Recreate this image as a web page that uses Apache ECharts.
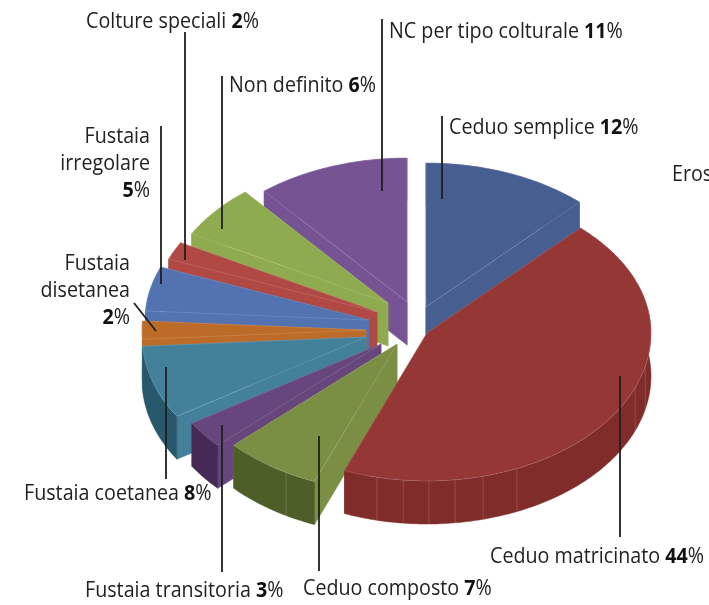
<!DOCTYPE html>
<html>
<head>
<meta charset="utf-8">
<title>Tipi colturali</title>
<script src="https://cdn.jsdelivr.net/npm/echarts@6/dist/echarts.min.js"></script>
<style>
  html, body { margin: 0; background: #fff; }
  #chart { width: 709px; height: 605px; }
</style>
</head>
<body>
<div id="chart"></div>
<script>
  // dati, in senso orario da ore 12
  var names = ["Ceduo semplice", "Ceduo matricinato", "Ceduo composto", "Fustaia transitoria", "Fustaia coetanea",
    "Fustaia\ndisetanea", "Fustaia\nirregolare", "Colture speciali", "Non definito", "NC per tipo colturale"];
  var values = [12, 44, 7, 3, 8, 2, 5, 2, 6, 11];

  // colori: faccia superiore e bordo esterno
  var topColors = ["#475e91", "#953735", "#7a8f43", "#66467c", "#43819a", "#bc6c28", "#5272b0", "#b04844", "#8fab50", "#765494"];
  var rimColors = ["#475e91", "#7f2c2a", "#4e5e28", "#452a55", "#27586b", "#bc6c28", "#5272b0", "#b04844", "#8fab50", "#765494"];

  // layout della torta esplosa
  var RX = 224, RY_BACK = 144, RY_FRONT = 148, DEPTH = 43;
  var apex = [[426, 307], [427, 333], [397, 344], [381, 344], [366, 337], [366, 330], [369, 320], [377, 312], [388, 303], [407, 302]];
  var paintOrder = [9, 0, 8, 7, 6, 5, 4, 3, 2, 1];
  var ribs = [103, 111.7, 156.3, 165.5, 172.8, 179.5, 186.1, 192.9, 209.7];

  // layout delle etichette: [x, y, allineamento, linea x1, y1, x2, y2]
  var labelPos = [
    [449, 128, "left", 442, 116, 442, 199],
    [490, 557, "left", 620, 376, 620, 537],
    [303, 589, "left", 319, 436, 319, 571],
    [85, 591, "left", 222, 425, 222, 572],
    [24, 494, "left", 166, 367, 166, 479],
    [130, 291, "right", 134, 303, 156, 331],
    [150, 164, "right", 161, 126, 161, 284],
    [86, 22, "left", 185, 32, 185, 260],
    [229, 86, "left", 222, 76, 222, 229],
    [389, 32, "left", 382, 19, 382, 191]
  ];
  var FONT = "Open Sans", FONT_SIZE = 22, TEXT_SQUEEZE = 0.895;

  var total = values.reduce(function(a, b) { return a + b; }, 0);
  var startAngle = [];
  values.reduce(function(sum, v, i) {
    startAngle[i] = sum / total * 360;
    return sum + v;
  }, 0);

  function rimPoint(i, t, dy) {
    var r = t * Math.PI / 180;
    var c = Math.cos(r);
    return [apex[i][0] + RX * Math.sin(r), apex[i][1] - (c > 0 ? RY_BACK : RY_FRONT) * c + (dy || 0)];
  }

  function arc(i, t0, t1, dy) {
    var pts = [];
    var n = Math.ceil(Math.abs(t1 - t0));
    for (var k = 0; k <= n; k++) {
      pts.push(rimPoint(i, t0 + (t1 - t0) * k / n, dy));
    }
    return pts;
  }

  function renderSlice(params, api) {
    var i = api.value(0);
    var t0 = startAngle[i];
    var t1 = t0 + api.value(1) / total * 360;
    var a = apex[i];
    var aLow = [a[0], a[1] + DEPTH];
    var top = topColors[i];
    var children = [];

    // pareti radiali
    [t0, t1].forEach(function(t) {
      children.push({
        type: "polygon",
        shape: { points: [a, rimPoint(i, t), rimPoint(i, t, DEPTH), aLow] },
        style: { fill: top, stroke: top, lineWidth: 0.5 }
      });
    });

    // parete esterna
    children.push({
      type: "polygon",
      shape: { points: arc(i, t0, t1, 0).concat(arc(i, t1, t0, DEPTH)) },
      style: { fill: rimColors[i], stroke: rimColors[i], lineWidth: 0.5 }
    });
    ribs.forEach(function(t) {
      if (t > t0 && t < t1) {
        var p = rimPoint(i, t), q = rimPoint(i, t, DEPTH);
        children.push({
          type: "line",
          shape: { x1: p[0], y1: p[1], x2: q[0], y2: q[1] },
          style: { stroke: "rgba(255,255,255,0.16)", lineWidth: 1 }
        });
      }
    });

    // faccia superiore
    children.push({
      type: "polygon",
      shape: { points: [a].concat(arc(i, t0, t1, 0)) },
      style: { fill: top, stroke: "rgba(255,255,255,0.2)", lineWidth: 0.7, lineJoin: "round" }
    });

    return { type: "group", children: children };
  }

  function renderLabel(params, api) {
    var i = api.value(0);
    var p = labelPos[i];
    var text = "{n|" + names[i].replace("\n", "}\n{n|") + "}" +
      (names[i].indexOf("\n") >= 0 ? "\n" : "{n| }") + "{b|" + values[i] + "}{n|%}";
    return {
      type: "group",
      children: [{
        type: "line",
        shape: { x1: p[3], y1: p[4], x2: p[5], y2: p[6] },
        style: { stroke: "#1f1f1f", lineWidth: 1.8 }
      }, {
        type: "text",
        x: p[0],
        y: p[1],
        scaleX: TEXT_SQUEEZE,
        style: {
          text: text,
          align: p[2],
          verticalAlign: "middle",
          rich: {
            n: { fontFamily: FONT, fontSize: FONT_SIZE, lineHeight: 27, fill: "#222", align: p[2] },
            b: { fontFamily: FONT, fontSize: FONT_SIZE, lineHeight: 27, fontWeight: "bold", fill: "#111", align: p[2] }
          }
        }
      }]
    };
  }

  var chart = echarts.init(document.getElementById("chart"), null, { renderer: "canvas" });
  chart.setOption({
    backgroundColor: "#fff",
    animation: false,
    series: [{
      type: "custom",
      coordinateSystem: "none",
      renderItem: renderSlice,
      data: paintOrder.map(function(i) { return [i, values[i]]; }),
      silent: true,
      z: 1
    }, {
      type: "custom",
      coordinateSystem: "none",
      renderItem: renderLabel,
      data: values.map(function(v, i) { return [i, v]; }),
      silent: true,
      z: 2
    }],
    graphic: [{
      type: "text",
      x: 672,
      y: 175,
      scaleX: TEXT_SQUEEZE,
      style: { text: "Eros", fontFamily: FONT, fontSize: FONT_SIZE, fill: "#222", verticalAlign: "middle" }
    }]
  });
</script>
</body>
</html>
